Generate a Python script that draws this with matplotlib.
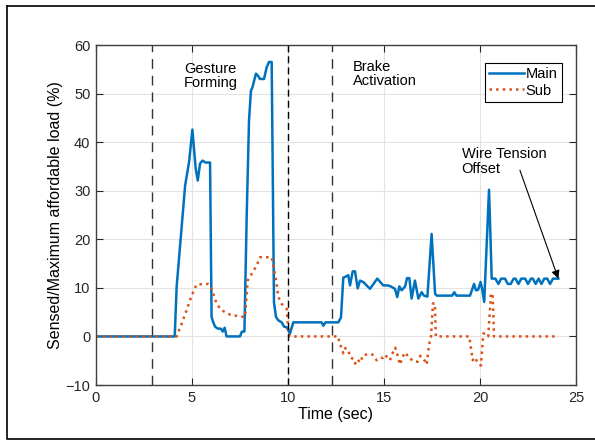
import matplotlib
matplotlib.use("Agg")
import matplotlib.pyplot as plt
from matplotlib.lines import Line2D

plt.rcParams['font.family'] = ['Liberation Sans', 'DejaVu Sans']

# Main channel: sensed / maximum affordable load (%)
main_t = [0, 4.1, 4.2, 4.45, 4.64, 4.85, 5.02, 5.19, 5.3, 5.42, 5.55, 5.7, 5.94,
          6.02, 6.1, 6.2, 6.35, 6.5, 6.6, 6.7, 6.8, 7.5, 7.6, 7.73, 7.85, 7.97,
          8.07, 8.15, 8.33, 8.45, 8.54, 8.75, 8.89, 9.01, 9.15, 9.27, 9.375, 9.5,
          9.67, 9.8, 9.93, 10.1, 10.28, 11.75, 11.84, 11.95, 12.62, 12.76, 12.88,
          13.0, 13.14, 13.23, 13.37, 13.49, 13.63, 13.75, 13.92, 14.27, 14.65,
          14.96, 15.22, 15.4, 15.57, 15.69, 15.8, 15.92, 16.1, 16.2, 16.32, 16.44,
          16.61, 16.79, 16.96, 17.08, 17.26, 17.48, 17.66, 17.75, 18.55, 18.66,
          18.77, 19.48, 19.69, 19.79, 19.9, 20.03, 20.1, 20.22, 20.47, 20.61,
          20.8, 20.96, 21.1, 21.3, 21.45, 21.6, 21.75, 21.85, 22.0, 22.15, 22.35,
          22.5, 22.65, 22.75, 22.9, 23.05, 23.2, 23.35, 23.5, 23.65, 23.8, 24.08]
main_v = [0, 0, 10.2, 22, 31, 36, 42.6, 34.6, 32.1, 35.6, 36.2, 35.8, 35.8,
          4, 3, 2, 1.6, 1.6, 1.0, 1.8, 0, 0, 1, 1, 25, 44.5,
          50.6, 51.3, 54.1, 53.6, 53, 53, 55.4, 56.5, 56.5, 7, 4, 3.3,
          2.9, 2.0, 1.9, 0.6, 2.9, 2.9, 2.2, 2.9, 2.9, 3.9, 12.1,
          12.3, 12.6, 10.5, 13.4, 13.4, 9.9, 11.5, 11.2, 9.8, 11.9,
          10.5, 10.5, 10.2, 9.8, 8.1, 10.3, 9.5, 10.3, 12, 12, 7.8,
          11.5, 7.8, 9.1, 8.4, 8.2, 21.1, 8.8, 8.4, 8.4, 9.1,
          8.4, 8.4, 10.8, 9.5, 9.6, 11.2, 10, 7.1, 30.2, 11.9,
          11.9, 10.8, 11.9, 11.9, 10.8, 10.8, 11.9, 11.9, 10.8, 11.9, 11.9,
          10.8, 11.9, 11.9, 10.8, 11.9, 10.8, 11.9, 11.9, 10.8, 11.9, 11.9]

# Sub channel
sub_t = [0, 4.2, 4.46, 4.72, 4.98, 5.24, 5.85, 6.03, 6.28, 6.54, 6.98, 7.5, 7.76,
         7.9, 8.11, 8.37, 8.54, 9.15, 9.38, 9.5, 9.67, 9.93, 10.02, 10.1, 12.62,
         12.66, 12.76, 12.83, 12.88, 12.99, 13.14, 13.23, 13.4, 13.49, 13.63,
         13.75, 13.92, 14.18, 14.39, 14.5, 14.62, 14.79, 14.96, 15.05, 15.19,
         15.31, 15.44, 15.58, 15.66, 15.75, 15.84, 15.96, 16.13, 16.27, 16.41,
         16.58, 16.75, 16.89, 17.0, 17.14, 17.22, 17.31, 17.35, 17.45, 17.55,
         17.65, 17.7, 19.44, 19.62, 19.74, 19.86, 20.05, 20.17, 20.3, 20.43,
         20.57, 20.66, 20.73, 24.0]
sub_v = [0, 0, 2.6, 5.4, 8.4, 10.7, 10.8, 9.8, 6.7, 5.4, 4.5, 4.1, 4.0,
         11.5, 12.9, 14.6, 16.3, 16.3, 11.5, 8.1, 6.7, 5.7, 1.2, 0, 0,
         -1.0, -2.1, -2.8, -3.5, -2.4, -2.8, -4.2, -4.7, -5.6, -4.7,
         -5.4, -3.8, -3.7, -3.7, -4.4, -4.9, -4.4, -4.4, -3.8, -4.4,
         -4.9, -3.5, -2.3, -3.1, -4.7, -5.8, -4.2, -3.3, -4.4, -4.7,
         -5.2, -5.2, -4.0, -4.4, -5.1, -5.8, -3.0, -1.6, 0, 6.8,
         6.8, 0, 0, -4.9, -4.3, -5.3, -6.0, 0.6, 0.6, 0,
         8.8, 8.8, 0, 0]

phase_lines = [2.9, 10.02, 12.3]

fig = plt.figure(figsize=(5.95, 4.4), dpi=100)
ax = fig.add_axes([96 / 595, 1 - 385 / 440, 480 / 595, 340 / 440])

ax.plot(main_t, main_v, color='#0072BD', lw=1.8, label='Main')
ax.plot(sub_t, sub_v, color='#D95319', lw=1.8, ls=':', label='Sub')

ax.axvline(phase_lines[0], color='#333333', lw=1.0, ls=(0, (7, 5)))
ax.axvline(phase_lines[1], color='black', lw=1.0, ls=(0, (5, 3)))
ax.axvline(phase_lines[2], color='#333333', lw=1.0, ls=(0, (7, 5)))

ax.set_xlim(0, 25)
ax.set_ylim(-10, 60)
ax.set_xticks(range(0, 26, 5))
ax.set_yticks(range(-10, 61, 10))
ax.grid(True, color='#e3e3e3', lw=0.8)
ax.set_axisbelow(True)
ax.tick_params(direction='in', top=True, right=True, length=5, width=0.8,
               labelsize=10.5, colors='#262626', pad=4)
for s in ax.spines.values():
    s.set_color('#404040')
    s.set_linewidth(1.0)

ax.set_xlabel('Time (sec)', fontsize=11.5, labelpad=2)
ax.set_ylabel('Sensed/Maximum affordable load (%)', fontsize=11.5, labelpad=2)

ax.text(4.58, 56.6, 'Gesture\nForming', fontsize=10.5, va='top', ha='left', linespacing=1.05)
ax.text(13.37, 57.0, 'Brake\nActivation', fontsize=10.5, va='top', ha='left', linespacing=1.05)
ax.text(19.04, 39.0, 'Wire Tension\nOffset', fontsize=10.5, va='top', ha='left', linespacing=1.05)
ax.annotate('', xy=(24.08, 11.9), xytext=(22.08, 34.2),
            arrowprops=dict(arrowstyle='-|>', color='black', lw=0.8,
                            mutation_scale=12, shrinkA=0, shrinkB=0))

leg = ax.legend(loc='upper right', bbox_to_anchor=(0.971, 0.947), borderaxespad=0,
                fancybox=False, edgecolor='black', framealpha=1, fontsize=10.5,
                handlelength=2.4, handletextpad=0.1, borderpad=0.3, labelspacing=0.15)
leg.get_frame().set_linewidth(0.8)

# outer frame around the figure
fig.add_artist(Line2D([7 / 595, 7 / 595, 1.01], [1 - 6 / 440, 1 - 439 / 440, 1 - 439 / 440],
                      color='black', lw=1.2, transform=fig.transFigure))
fig.add_artist(Line2D([7 / 595, 1.01], [1 - 6 / 440, 1 - 6 / 440],
                      color='black', lw=1.2, transform=fig.transFigure))

fig.savefig('out.png', dpi=100)
